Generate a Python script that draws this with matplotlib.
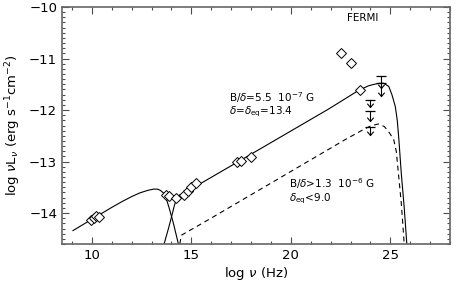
import numpy as np
import matplotlib
matplotlib.use("Agg")
import matplotlib.pyplot as plt
from matplotlib.ticker import MultipleLocator
from matplotlib.path import Path

plt.rcParams['font.family'] = ['DejaVu Sans']
plt.rcParams['mathtext.fontset'] = 'dejavusans'

# curves (log nu, log nuL_nu)
sync_x = [9.05, 10.0, 11.0, 11.5, 12.0, 12.4, 12.8, 13.1, 13.3, 13.45, 13.6, 13.75, 13.9, 14.1, 14.35, 14.42]
sync_y = [-14.34, -14.12, -13.89, -13.78, -13.68, -13.61, -13.56, -13.535, -13.535, -13.56, -13.61, -13.73, -13.92, -14.2, -14.6, -14.7]

ic_x = [13.58, 13.63, 13.85, 14.02, 14.15, 14.25, 14.4, 14.6, 17.5, 21.9, 23.4, 23.9, 24.2, 24.45, 24.67, 24.92, 25.08,
        25.25, 25.35, 25.43, 25.55, 25.7, 25.83, 25.86]
ic_y = [-14.68, -14.6, -14.3, -14.05, -13.85, -13.73, -13.65, -13.62, -12.97, -11.98, -11.62, -11.53, -11.5, -11.48,
        -11.48, -11.54, -11.7, -11.93, -12.2, -12.57, -13.22, -13.9, -14.6, -14.7]

dash_x = [14.42, 14.5, 15.9, 22.75, 23.5, 24.0, 24.4, 24.7, 24.95, 25.17, 25.3, 25.4, 25.55, 25.7, 25.72]
dash_y = [-14.6, -14.43, -14.12, -12.57, -12.41, -12.31, -12.27, -12.32, -12.44, -12.57, -12.8, -13.2, -13.8, -14.6, -14.7]

# data points (open diamonds)
obs_x = [9.95, 10.1, 10.2, 10.35,
         13.72, 13.9, 14.22, 14.62, 14.82, 15.0, 15.22,
         17.3, 17.5, 18.0,
         22.5, 23.0, 23.5]
obs_y = [-14.13, -14.09, -14.06, -14.07,
         -13.64, -13.67, -13.71, -13.65, -13.58, -13.5, -13.42,
         -13.0, -12.98, -12.91,
         -10.9, -11.08, -11.62]

# upper limits: x, cap, arrow tip
ul_x = [24.0, 24.0, 24.0, 24.55, 24.55]
ul_cap = [-11.80, -12.02, -12.33, -11.33, -11.48]
ul_tip = [-11.95, -12.22, -12.48, -11.57, -11.73]

# open "V" arrowhead, apex at the marker centre
vee = Path([(-1, 1.2), (0, 0), (1, 1.2)], [Path.MOVETO, Path.LINETO, Path.LINETO])

fig = plt.figure(figsize=(4.57, 2.92), dpi=100, facecolor='w')
ax = fig.add_axes([62 / 457, 1 - 244 / 292, 388 / 457, 237 / 292])

ax.plot(sync_x, sync_y, color='k', lw=0.8)
ax.plot(ic_x, ic_y, color='k', lw=0.8)
ax.plot(dash_x, dash_y, color='k', lw=0.8, dashes=[4.5, 3.5])
ax.plot(obs_x, obs_y, ls='none', marker='D', ms=4.6, mfc='w', mec='k', mew=0.7)

for x, c, t in zip(ul_x, ul_cap, ul_tip):
    ax.plot([x, x], [c, t], color='k', lw=0.8)
    ax.plot([x], [c], marker='_', ms=7, mew=0.9, color='k')
    ax.plot([x], [t], marker=vee, ms=5.5, mew=0.8, mfc='none', mec='k')

ax.text(23.6, -10.21, 'FERMI', fontsize=7.5, ha='center', va='center')
ax.text(16.9, -11.75, r'B/$\delta$=5.5  10$^{-7}$ G', fontsize=7.5, va='center')
ax.text(16.9, -12.03, r'$\delta$=$\delta_{\rm eq}$=13.4', fontsize=7.5, va='center')
ax.text(19.9, -13.42, r'B/$\delta$>1.3  10$^{-6}$ G', fontsize=7.5, va='center')
ax.text(19.9, -13.73, r'$\delta_{\rm eq}$<9.0', fontsize=7.5, va='center')

ax.set_xlim(8.5, 28)
ax.set_ylim(-14.6, -10)
ax.xaxis.set_major_locator(MultipleLocator(5))
ax.xaxis.set_minor_locator(MultipleLocator(1))
ax.yaxis.set_major_locator(MultipleLocator(1))
ax.yaxis.set_minor_locator(MultipleLocator(0.1))
ax.tick_params(which='both', direction='in', top=True, right=True, labelsize=9.5, width=0.8, color='0.3')
ax.tick_params(which='major', length=5)
ax.tick_params(which='minor', length=2.5)
for s in ax.spines.values():
    s.set_color('0.4')
    s.set_linewidth(1.2)

ax.set_xlabel(r'log $\nu$ (Hz)', fontsize=9.5, labelpad=2)
ax.set_ylabel(r'log $\nu$L$_\nu$ (erg s$^{-1}$cm$^{-2}$)', fontsize=9.5, labelpad=4)

fig.savefig('out.png', dpi=100)
